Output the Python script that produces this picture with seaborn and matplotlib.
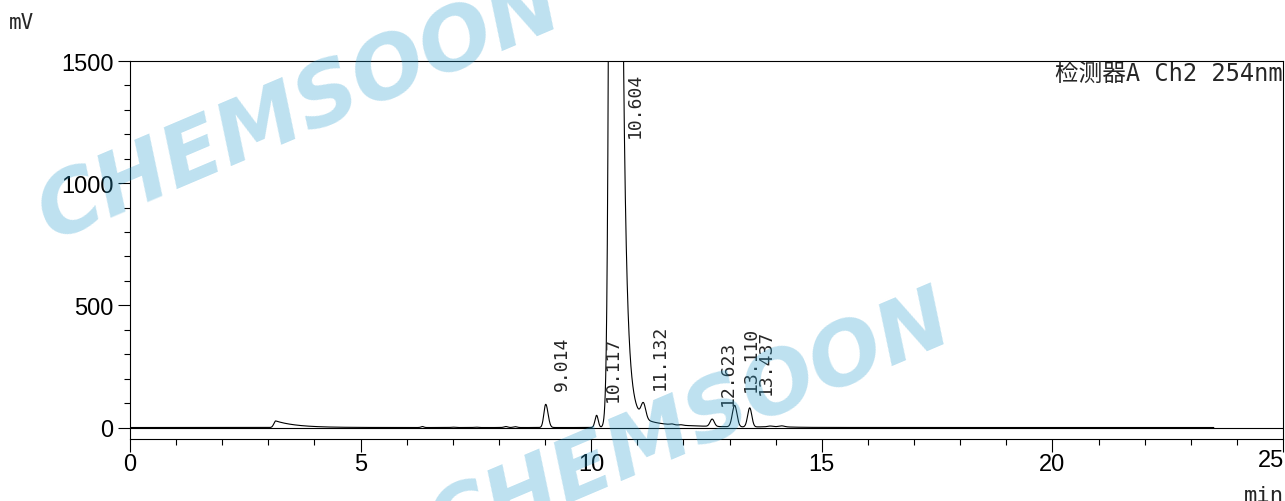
import numpy as np
import pandas as pd
import matplotlib
matplotlib.use("Agg")
import matplotlib.pyplot as plt
import seaborn as sns
from matplotlib.ticker import MultipleLocator, FixedLocator

# peak table (min, mV)
peak_rt = [3.16, 6.34, 7.0, 7.5, 8.15, 8.35, 9.014, 10.117, 10.60, 10.60, 10.60, 10.60,
           11.132, 11.75, 11.95, 12.623, 13.110, 13.437, 13.88, 14.13, 14.0]
peak_height = [27, 4, 1.5, 1.5, 4, 3.5, 95, 50, 56700, 5100, 250, 35,
               60, 3, 2, 30, 88, 78, 3, 4, 2]
peak_sigma_left = [0.04, 0.03, 0.04, 0.04, 0.04, 0.04, 0.04, 0.035, 0.0853, 0, 0, 0,
                   0.05, 0.04, 0.04, 0.045, 0.05, 0.045, 0.05, 0.06, 0.3]
peak_sigma_right = [0, 0.03, 0.04, 0.04, 0.04, 0.04, 0.05, 0.035, 0.025, 0, 0, 0,
                    0.05, 0.04, 0.04, 0.045, 0.05, 0.045, 0.05, 0.06, 0.3]
peak_tau = [0.45, 0, 0, 0, 0, 0, 0, 0, 0, 0.075, 0.2, 1.0,
            0, 0, 0, 0, 0, 0, 0, 0, 0]

label_rt = [9.014, 10.117, 10.604, 11.132, 12.623, 13.110, 13.437]
x_ticks = [0, 5, 10, 15, 20, 25]
run_end = 23.5


def peak_shape(t, rt, h, sl, sr, tau):
    dx = t - rt
    y = np.zeros_like(t)
    left = dx < 0
    if sl > 0:
        y[left] = h * np.exp(-0.5 * (dx[left] / sl) ** 2)
    right = ~left
    if tau > 0:
        y[right] = h * np.exp(-dx[right] / tau)
    else:
        y[right] = h * np.exp(-0.5 * (dx[right] / sr) ** 2)
    return y


t = np.linspace(0, run_end, 14000)
signal = np.zeros_like(t)
for p in zip(peak_rt, peak_height, peak_sigma_left, peak_sigma_right, peak_tau):
    signal += peak_shape(t, *p)
df = pd.DataFrame({"min": t, "mV": signal})

sns.set_theme(style="white")
mono = ["DejaVu Sans Mono", "Noto Sans CJK JP"]

fig = plt.figure(figsize=(12.85, 5.02), dpi=100)
ax = fig.add_axes([130 / 1285, 1 - 440 / 502, 1153 / 1285, 378 / 502])

ax.axhline(0, color="black", lw=0.8, zorder=1)
sns.lineplot(data=df, x="min", y="mV", ax=ax, color="black", lw=0.8,
             estimator=None, zorder=2)

ax.set_xlim(0, 25)
ax.set_ylim(-47, 1500)
ax.set_xlabel("")
ax.set_ylabel("")
ax.xaxis.set_major_locator(FixedLocator(x_ticks))
ax.set_xticklabels([str(v) for v in x_ticks[:-1]] + [""], family="Liberation Sans")
ax.xaxis.set_minor_locator(MultipleLocator(1))
ax.yaxis.set_major_locator(MultipleLocator(500))
ax.yaxis.set_minor_locator(MultipleLocator(100))
ax.tick_params(which="both", direction="out", color="black", width=0.8,
               bottom=True, left=True, top=False, right=False)
ax.tick_params(which="major", length=9, labelsize=17, labelcolor="black")
ax.tick_params(which="minor", length=4.3)
ax.tick_params(axis="x", which="major", pad=1)
ax.tick_params(axis="y", which="major", pad=3)
for lab in ax.get_yticklabels():
    lab.set_family("Liberation Sans")
# last x label sits inside the frame, right-aligned like the instrument print
ax.annotate(str(x_ticks[-1]), xy=(x_ticks[-1], 0), xycoords=ax.get_xaxis_transform(),
            xytext=(1, -7.5), textcoords="offset points", ha="right", va="top",
            fontsize=17, family="Liberation Sans", color="black", annotation_clip=False)
for sp in ax.spines.values():
    sp.set_color("black")
    sp.set_linewidth(0.8)

# retention time labels
ytop = ax.get_ylim()[1]
for rt in label_rt:
    apex = np.interp(rt, t, signal)
    if apex > ytop:
        ax.annotate(f"{rt:.3f}", xy=(rt, ytop), xytext=(11, -8), textcoords="offset points",
                    rotation=90, ha="center", va="top", fontsize=13, family="DejaVu Sans Mono")
    else:
        ax.annotate(f"{rt:.3f}", xy=(rt, apex), xytext=(11.5, 10), textcoords="offset points",
                    rotation=90, ha="center", va="bottom", fontsize=13, family="DejaVu Sans Mono")

ax.text(1.0, 1.0, "检测器A Ch2 254nm", transform=ax.transAxes, ha="right", va="top",
        fontsize=17, family=mono)
fig.text(9 / 1285, 1 - 13 / 502, "mV", ha="left", va="top", fontsize=15, family=mono)
fig.text(1284 / 1285, 1 - 502 / 502, "min", ha="right", va="baseline", fontsize=16, family=mono)

# watermark
for x, y in [(300, 110), (690, 425)]:
    fig.text(x / 1285, 1 - y / 502, "CHEMSOON", ha="center", va="center", rotation=23,
             rotation_mode="anchor", fontsize=62, fontweight="bold", fontstyle="italic",
             family="DejaVu Sans", color="#269bcd", alpha=0.3, zorder=10)

fig.savefig("out.png", dpi=100)
